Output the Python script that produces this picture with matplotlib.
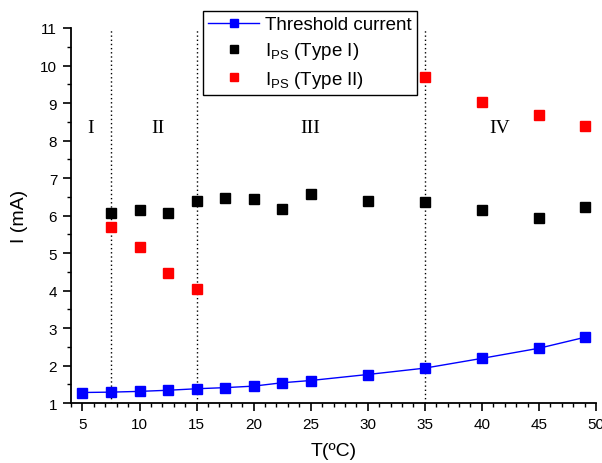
import matplotlib
matplotlib.use("Agg")
import matplotlib.pyplot as plt
from matplotlib.ticker import MultipleLocator

plt.rcParams['font.family'] = ['Liberation Sans', 'DejaVu Sans']
plt.rcParams['mathtext.fontset'] = 'custom'
plt.rcParams['mathtext.rm'] = 'Liberation Sans'

t_thr = [5, 7.5, 10, 12.5, 15, 17.5, 20, 22.5, 25, 30, 35, 40, 45, 49]
i_thr = [1.28, 1.29, 1.31, 1.34, 1.38, 1.41, 1.45, 1.54, 1.60, 1.76, 1.93, 2.19, 2.46, 2.75]

t_type1 = [7.5, 10, 12.5, 15, 17.5, 20, 22.5, 25, 30, 35, 40, 45, 49]
i_type1 = [6.07, 6.15, 6.07, 6.38, 6.48, 6.45, 6.17, 6.57, 6.39, 6.37, 6.15, 5.93, 6.22]

t_type2 = [7.5, 10, 12.5, 15, 35, 40, 45, 49]
i_type2 = [5.70, 5.15, 4.47, 4.03, 9.70, 9.03, 8.69, 8.40]

boundaries = [7.5, 15, 35]
region_labels = ['I', 'II', 'III', 'IV']
region_x = [5.7, 11.65, 24.95, 41.57]
region_y = [8.36, 8.36, 8.36, 8.36]

fig = plt.figure(figsize=(6.02, 4.64), dpi=100)
ax = fig.add_axes([0.118, 0.1293, 0.872, 0.8082])

for b in boundaries:
    ax.axvline(b, color='black', linestyle=(0, (1, 2)), linewidth=1, zorder=1)

ax.plot(t_thr, i_thr, color='blue', linewidth=1, marker='s', markersize=7,
        markeredgecolor='blue', label='Threshold current', zorder=3)
ax.plot(t_type1, i_type1, linestyle='none', marker='s', markersize=6.5,
        color='black', label=r'I$_\mathregular{PS}$ (Type I)', zorder=3)
ax.plot(t_type2, i_type2, linestyle='none', marker='s', markersize=6.5,
        color='red', markeredgecolor='red', label=r'I$_\mathregular{PS}$ (Type II)', zorder=3)

for lab, x, y in zip(region_labels, region_x, region_y):
    ax.text(x, y, lab, family='Liberation Serif', fontsize=14, ha='center', va='center')

ax.set_xlim(4.0, 50)
ax.set_ylim(1, 11)
ax.xaxis.set_major_locator(MultipleLocator(5))
ax.xaxis.set_minor_locator(MultipleLocator(1))
ax.yaxis.set_major_locator(MultipleLocator(1))
ax.yaxis.set_minor_locator(MultipleLocator(0.5))
ax.spines['top'].set_visible(False)
ax.spines['right'].set_visible(False)
for s in ['left', 'bottom']:
    ax.spines[s].set_linewidth(1.3)
ax.tick_params(which='major', direction='out', length=6, width=1.2, labelsize=11, pad=4)
ax.tick_params(which='minor', direction='out', length=3, width=1)

ax.set_xlabel('T(ºC)', fontsize=14, labelpad=8)
ax.set_ylabel('I (mA)', fontsize=14, labelpad=9)

leg = ax.legend(loc='upper left', bbox_to_anchor=(0.337, 0.975), bbox_transform=fig.transFigure,
                fontsize=13.5, frameon=True, fancybox=False, framealpha=1, edgecolor='black',
                borderaxespad=0, handlelength=2.7, handletextpad=0.3, labelspacing=0.38,
                borderpad=0.3, markerscale=0.8)
leg.get_frame().set_linewidth(1)

fig.savefig('out.png', dpi=100)
